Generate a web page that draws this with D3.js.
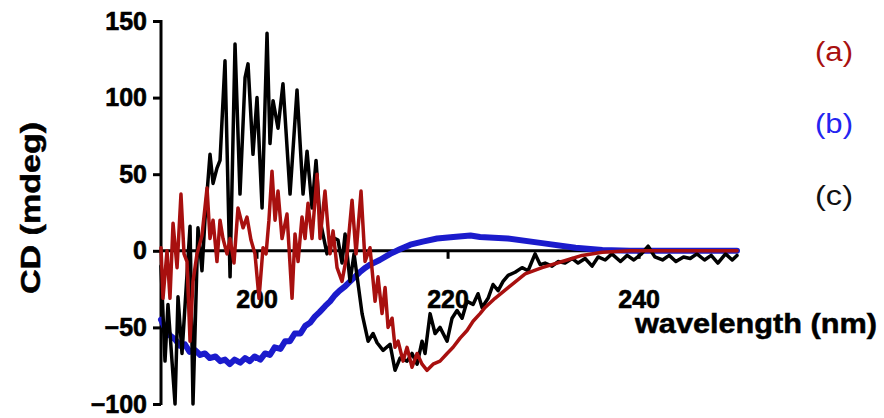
<!DOCTYPE html>
<html>
<head>
<meta charset="utf-8">
<script src="https://cdn.jsdelivr.net/npm/d3@7"></script>
<style>
  html, body { margin: 0; padding: 0; background: #fff; }
  svg { display: block; font-family: "Liberation Sans", Arial, sans-serif; }
</style>
</head>
<body>
<svg id="chart" width="884" height="418"></svg>
<script>
// CD spectra, wavelength (nm) vs ellipticity (mdeg)
const xTicks = [200, 220, 240];
const yTicks = [-100, -50, 0, 50, 100, 150];
const legendLabels = ["(a)", "(b)", "(c)"];

// (b) spectrum
const wlB = [190.0, 190.4, 190.9, 191.5, 192.0, 192.5, 193.0, 193.6, 194.1, 194.6, 195.1, 195.7, 196.2, 196.7, 197.2, 197.7, 198.3, 198.8, 199.3, 199.8, 200.4, 200.9, 201.4, 201.9, 202.5, 203.0, 203.5, 204.0, 204.6, 205.1, 205.6, 206.1, 206.6, 207.2, 207.7, 208.2, 208.7, 209.3, 209.8, 210.3, 210.8, 211.4, 211.9, 212.9, 214.0, 215.0, 216.1, 217.4, 218.9, 220.6, 222.4, 223.4, 226.3, 229.9, 233.4, 236.2, 239.1, 243.0, 247.0, 250.3];
const cdB = [-45, -50, -55, -58, -62, -61, -66, -65, -68, -67, -70, -69, -72, -71, -74, -71, -73, -70, -72, -69, -71, -67, -68, -63, -64, -59, -59, -54, -54, -49, -47, -43, -40, -36, -33, -29, -26, -23, -20, -17, -14, -11, -9, -6, -2, 1, 4, 6, 8, 9, 10, 9, 8, 5, 2, 0.5, 0, 0, 0, 0];

// (c) spectrum
const wlC = [190.0, 190.42, 190.73, 191.47, 191.78, 192.2, 193.04, 193.35, 193.87, 194.29, 194.6, 195.13, 195.45, 195.86, 196.18, 196.7, 197.23, 197.75, 198.27, 198.8, 199.11, 199.63, 200.05, 200.58, 201.1, 201.41, 201.73, 202.25, 202.77, 203.51, 204.24, 204.87, 205.29, 205.81, 206.23, 206.65, 207.38, 207.91, 208.53, 208.95, 209.27, 209.79, 210.21, 211.05, 211.68, 212.2, 212.62, 213.25, 213.98, 214.5, 215.03, 215.76, 216.28, 216.81, 217.33, 217.64, 218.17, 218.69, 219.21, 219.95, 220.47, 220.99, 221.52, 222.04, 222.67, 223.19, 223.61, 224.24, 224.76, 225.29, 225.81, 226.34, 227.07, 227.8, 228.43, 229.16, 229.69, 230.21, 230.94, 231.57, 232.3, 233.04, 233.66, 234.4, 235.13, 235.76, 236.5, 237.2, 238.1, 238.8, 239.5, 240.3, 241.0, 241.7, 242.5, 243.2, 243.9, 244.7, 245.4, 246.1, 246.9, 247.6, 248.3, 249.1, 249.8, 250.3];
const cdC = [-10, -72, -35, -100, -30, -67, 16, -100, 15, -13, 20, 63, 44, 54, 59, 124, -17, 135, 37, 113, 122, 63, 100, 28, 142, 70, 98, 80, 109, 37, 105, 37, 65, 28, 59, 20, -2, 9, 7, -8, 11, -20, -2, -41, -59, -54, -60, -65, -61, -78, -70, -72, -67, -74, -59, -67, -41, -54, -50, -59, -44, -39, -44, -33, -35, -28, -37, -31, -22, -26, -20, -16, -14, -11, -13, -2, -9, -8, -10, -7, -8, -5, -8, -5, -10, -4, -6, -2, -7, -3, -6, -2, 3, -4, -6, -3, -7, -4, -5, -2, -6, -3, -8, -2, -6, -3];

// (a) spectrum
const wlA = [190.0, 190.21, 190.63, 190.94, 191.26, 191.68, 192.09, 192.41, 192.72, 193.04, 193.35, 193.77, 194.29, 194.82, 195.13, 195.45, 195.86, 196.18, 196.49, 196.91, 197.23, 197.64, 198.06, 198.59, 199.0, 199.42, 199.84, 200.26, 200.68, 201.0, 201.3, 201.62, 201.94, 202.25, 202.67, 203.19, 203.72, 204.03, 204.35, 204.76, 205.08, 205.39, 205.81, 206.34, 206.65, 207.17, 207.7, 208.01, 208.43, 208.95, 209.48, 210.0, 210.42, 210.94, 211.36, 211.88, 212.41, 212.72, 213.14, 213.46, 213.77, 214.19, 214.5, 214.82, 215.34, 215.76, 216.28, 216.81, 217.33, 217.85, 218.48, 219.21, 219.95, 220.58, 221.31, 222.04, 222.67, 223.4, 223.93, 224.97, 226.34, 228.12, 229.9, 232.0, 234.08, 236.18, 239.1, 243.3, 250.3];
const cdA = [2, -31, 0, -31, 18, -11, 37, -2, -7, -59, -20, -2, 10, 41, 8, 20, -7, 20, 8, -2, 8, -8, 28, 15, 22, 7, -2, -31, 2, -2, 20, 52, 20, 39, 8, 24, -31, 11, -7, 22, 8, 31, 8, 50, 8, 39, -2, 13, -11, -20, -2, 33, -2, 39, -7, 2, -33, -17, -41, -24, -50, -44, -63, -59, -72, -63, -76, -67, -74, -78, -74, -72, -67, -63, -57, -52, -46, -41, -37, -31, -24, -15, -11, -7, -3, -1, 0, 0, 0];

const colorA = "#a8100f";
const colorB = "#1b1bcc";
const colorC = "#000000";
const legendColors = ["#a8100f", "#2424f0", "#111111"];

const svg = d3.select("#chart");

const x = d3.scaleLinear().domain([190, 250.3]).range([161, 737]);
const y = d3.scaleLinear().domain([-100, 150]).range([404, 21]);

// y axis on the left
const yAxis = svg.append("g")
  .attr("transform", "translate(161,0)")
  .call(d3.axisLeft(y).tickValues(yTicks).tickSize(8).tickPadding(6));
yAxis.select(".domain").attr("stroke-width", 3).attr("d", `M0,${y(150) - 1}V${y(-100) + 1}`);
yAxis.selectAll(".tick line").attr("stroke-width", 3);
yAxis.selectAll(".tick text")
  .attr("font-size", 25).attr("font-weight", "bold").attr("fill", "#000")
  .attr("stroke", "#000").attr("stroke-width", 0.6)
  .attr("font-family", "'Liberation Sans', Arial, sans-serif");

// x axis along CD = 0
const xAxis = svg.append("g")
  .attr("transform", `translate(0,${y(0)})`)
  .call(d3.axisBottom(x).tickValues(xTicks).tickSize(8).tickPadding(31));
xAxis.select(".domain").attr("stroke-width", 3).attr("d", `M161,0H737`);
xAxis.selectAll(".tick line").attr("stroke-width", 3);
xAxis.selectAll(".tick text")
  .attr("font-size", 25).attr("font-weight", "bold").attr("fill", "#000")
  .attr("stroke", "#000").attr("stroke-width", 0.6)
  .attr("font-family", "'Liberation Sans', Arial, sans-serif");

const line = d3.line().x(d => x(d[0])).y(d => y(d[1]));
const series = [
  { wl: wlB, cd: cdB, color: colorB, width: 6 },
  { wl: wlC, cd: cdC, color: colorC, width: 3.5 },
  { wl: wlA, cd: cdA, color: colorA, width: 3.5 }
];
svg.append("g").selectAll("path")
  .data(series)
  .join("path")
  .attr("d", s => line(s.wl.map((w, i) => [w, s.cd[i]])))
  .attr("fill", "none")
  .attr("stroke", s => s.color)
  .attr("stroke-width", s => s.width)
  .attr("stroke-linejoin", "round")
  .attr("stroke-linecap", "round");

// axis titles
svg.append("text")
  .attr("transform", "translate(40,208) rotate(-90)")
  .attr("text-anchor", "middle")
  .attr("font-size", 27).attr("font-weight", "bold")
  .attr("stroke", "#000").attr("stroke-width", 0.5)
  .attr("textLength", 172).attr("lengthAdjust", "spacingAndGlyphs")
  .text("CD (mdeg)");

svg.append("text")
  .attr("x", 635).attr("y", 333)
  .attr("font-size", 27).attr("font-weight", "bold")
  .attr("stroke", "#000").attr("stroke-width", 0.5)
  .attr("textLength", 242).attr("lengthAdjust", "spacingAndGlyphs")
  .text("wavelength (nm)");

// series labels
svg.append("g").selectAll("text")
  .data(legendLabels)
  .join("text")
  .attr("x", 815)
  .attr("y", (d, i) => 61 + i * 72)
  .attr("font-size", 27)
  .attr("fill", (d, i) => legendColors[i])
  .attr("textLength", 38).attr("lengthAdjust", "spacingAndGlyphs")
  .text(d => d);
</script>
</body>
</html>
